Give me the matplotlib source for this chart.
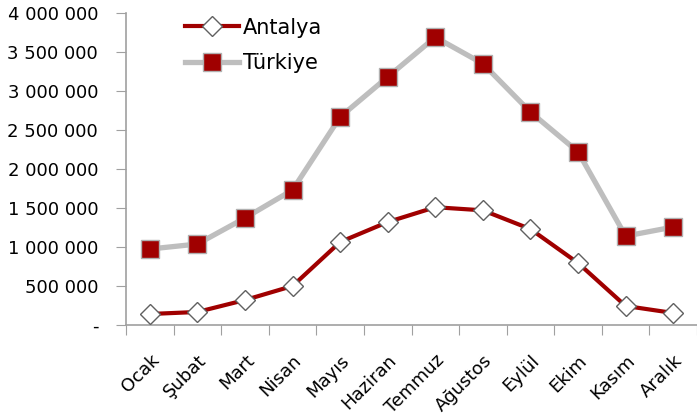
import matplotlib
matplotlib.use("Agg")
from matplotlib import pyplot as plt
from matplotlib.ticker import FuncFormatter, FixedLocator

months = ["Ocak", "Şubat", "Mart", "Nisan", "Mayıs", "Haziran",
          "Temmuz", "Ağustos", "Eylül", "Ekim", "Kasım", "Aralık"]
antalya = [141000, 167000, 320000, 500000, 1064000, 1320000,
           1510000, 1470000, 1230000, 795000, 244000, 154000]
turkiye = [974000, 1038000, 1372000, 1731000, 2667000, 3180000,
           3690000, 3350000, 2730000, 2220000, 1140000, 1256000]

plt.rcParams['font.family'] = ['DejaVu Sans']

fig = plt.figure(figsize=(6.97, 4.16), dpi=100)
ax = fig.add_axes([126 / 697, 91 / 416, 571 / 697, 312 / 416])

x = list(range(len(months)))
ax.plot(x, turkiye, color='#bebebe', lw=3.8, marker='s', ms=13,
        mfc='#a00000', mec='#b0b0b0', mew=1, label='Türkiye', zorder=2)
ax.plot(x, antalya, color='#a00000', lw=3, marker='D', ms=10.5,
        mfc='white', mec='#606060', mew=1, label='Antalya', zorder=3)

ax.set_xlim(-0.5, 11.5)
ax.set_ylim(0, 4000000)
ax.set_yticks(range(0, 4000001, 500000))

def fmt(v, pos):
    if v == 0:
        return '-'
    return f"{int(v):,}".replace(",", " ")

ax.yaxis.set_major_formatter(FuncFormatter(fmt))

ax.xaxis.set_major_locator(FixedLocator([i - 0.5 for i in range(13)]))
ax.xaxis.set_major_formatter(FuncFormatter(lambda v, p: ''))
ax.xaxis.set_minor_locator(FixedLocator(x))
ax.set_xticklabels(months, minor=True, rotation=45, ha='right',
                   rotation_mode='anchor')
ax.tick_params(axis='x', which='minor', length=0, pad=19, labelsize=13)
ax.tick_params(axis='x', which='major', length=7, color='#a0a0a0')
ax.tick_params(axis='y', length=7, color='#a0a0a0', labelsize=13, pad=13)

for s in ['top', 'right']:
    ax.spines[s].set_visible(False)
for s in ['left', 'bottom']:
    ax.spines[s].set_color('#a0a0a0')
    ax.spines[s].set_linewidth(1.2)

h, l = ax.get_legend_handles_labels()
ax.legend(h[::-1], l[::-1], loc='upper left', bbox_to_anchor=(170 / 697, 1 - 3 / 416),
          bbox_transform=fig.transFigure, frameon=False, fontsize=15,
          handlelength=2.6, handletextpad=0.2, labelspacing=0.75, borderpad=0.2)

fig.savefig('out.png', dpi=100)
